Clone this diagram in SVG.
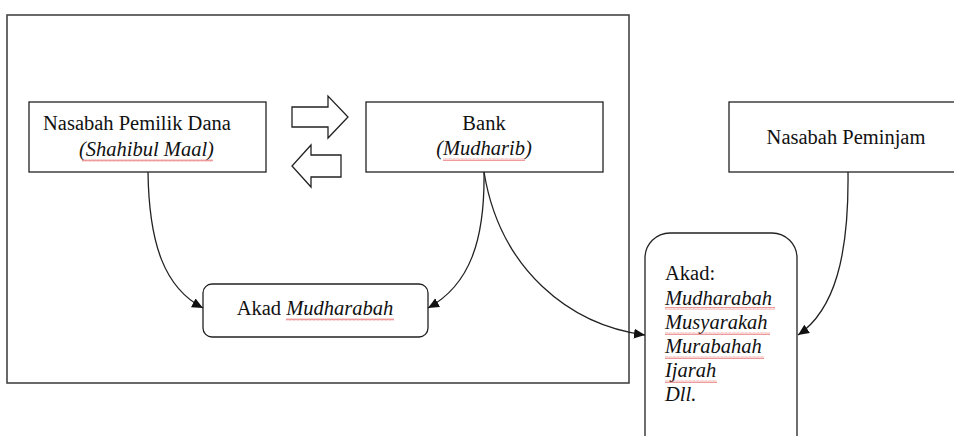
<svg xmlns="http://www.w3.org/2000/svg" width="954" height="436" viewBox="0 0 954 436">
<style>
  .box { fill: #ffffff; stroke: #222; stroke-width: 1.3; }
  .frame { fill: none; stroke: #444; stroke-width: 1.6; }
  .t { font-family: "Liberation Serif", "Times New Roman", "DejaVu Serif", serif; font-size: 20.5px; fill: #111; }
  .i { font-style: italic; }
  .c { fill: none; stroke: #222; stroke-width: 1.3; }
  .sq { fill: url(#wave); }
</style>
<defs>
  <marker id="ah" viewBox="0 0 10 10" refX="10" refY="5" markerWidth="11" markerHeight="11" markerUnits="userSpaceOnUse" orient="auto">
    <path d="M0,0.5 L10,5 L0,9.5 Z" fill="#111"/>
  </marker>
  <pattern id="wave" width="4" height="3" patternUnits="userSpaceOnUse">
    <path d="M0,2.5 L1,0.5 L2,2.5 L3,0.5 L4,2.5" fill="none" stroke="#e87070" stroke-width="0.7"/>
  </pattern>
</defs>

<rect class="frame" x="7" y="15" width="622" height="368"/>

<g id="pemilik-dana">
  <rect class="box" x="29" y="102" width="237" height="70"/>
  <text class="t" x="43" y="130">Nasabah Pemilik Dana</text>
  <text class="t i" x="79" y="156">(Shahibul Maal)</text>
  <rect class="sq" x="82" y="159" width="131" height="3"/>
</g>

<g id="bank">
  <rect class="box" x="366" y="102" width="237" height="70"/>
  <text class="t" x="484" y="130" text-anchor="middle">Bank</text>
  <text class="t i" x="484" y="155" text-anchor="middle">(Mudharib)</text>
  <rect class="sq" x="443" y="158" width="82" height="3"/>
</g>

<g id="peminjam">
  <rect class="box" x="729" y="102" width="230" height="70"/>
  <text class="t" x="846" y="144" text-anchor="middle">Nasabah Peminjam</text>
</g>

<g id="akad-mudharabah">
  <rect class="box" x="203" y="284" width="225" height="53" rx="9"/>
  <text class="t" x="315" y="315" text-anchor="middle">Akad <tspan class="i">Mudharabah</tspan></text>
  <rect class="sq" x="286" y="318" width="108" height="3"/>
</g>

<g id="akad-list">
  <rect class="box" x="645" y="233" width="152" height="230" rx="25"/>
  <text class="t" x="665" y="280">Akad:</text>
  <text class="t i" x="665" y="305">Mudharabah</text>
  <text class="t i" x="665" y="329">Musyarakah</text>
  <text class="t i" x="665" y="353">Murabahah</text>
  <text class="t i" x="665" y="377">Ijarah</text>
  <text class="t i" x="665" y="401">Dll.</text>
  <rect class="sq" x="665" y="307" width="110" height="3"/>
  <rect class="sq" x="665" y="332" width="105" height="3"/>
  <rect class="sq" x="665" y="356" width="99" height="3"/>
  <rect class="sq" x="665" y="380" width="52" height="3"/>
</g>

<g id="block-arrows">
  <path class="box" d="M292,107 L328,107 L328,96 L348,117 L328,138 L328,127 L292,127 Z"/>
  <path class="box" d="M341,155 L311,155 L311,145 L292,166 L311,187 L311,177 L341,177 Z"/>
</g>

<g id="connectors">
  <path class="c" d="M148,172 C149,245 165,288 203,308" marker-end="url(#ah)"/>
  <path class="c" d="M484,172 C485,240 470,285 428,308" marker-end="url(#ah)"/>
  <path class="c" d="M484,172 C500,270 570,325 645,335" marker-end="url(#ah)"/>
  <path class="c" d="M848,172 C849,255 835,310 798,335" marker-end="url(#ah)"/>
</g>
</svg>
